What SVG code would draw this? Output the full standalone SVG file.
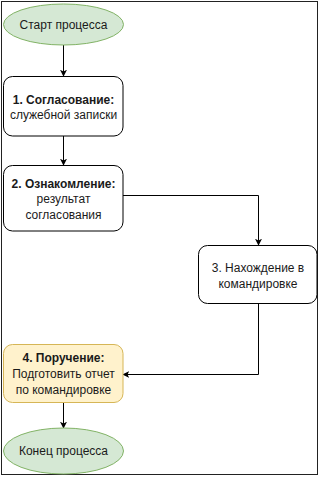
<svg xmlns="http://www.w3.org/2000/svg" width="323" height="484" viewBox="0 0 323 484">
<defs>
<style>
text{font-family:"Liberation Sans",Arial,sans-serif;font-size:12px;fill:#1a1a1a;text-anchor:middle}
.b{font-weight:bold}
.term{fill:#d5e8d4;stroke:#82b366;stroke-width:1}
.proc{fill:#ffffff;stroke:#000000;stroke-width:1}
.task{fill:#fff2cc;stroke:#d6b656;stroke-width:1}
.edge{fill:none;stroke:#000000;stroke-width:1}
</style>
<marker id="arr" viewBox="0 0 10 10" refX="9" refY="5" markerWidth="7" markerHeight="7" orient="auto" markerUnits="userSpaceOnUse">
<path d="M0,0 L10,5 L0,10 L2.5,5 Z" fill="#000"/>
</marker>
</defs>
<rect x="1.5" y="1.5" width="316" height="473" fill="#ffffff" stroke="#222" stroke-width="1"/>
<g id="connectors">
<path class="edge" d="M63.5,45 L63.5,76" marker-end="url(#arr)"/>
<path class="edge" d="M63.5,136 L63.5,165" marker-end="url(#arr)"/>
<path class="edge" d="M123,195.5 L258.5,195.5 L258.5,245" marker-end="url(#arr)"/>
<path class="edge" d="M258.5,303 L258.5,374.5 L123,374.5" marker-end="url(#arr)"/>
<path class="edge" d="M63.5,402 L63.5,428" marker-end="url(#arr)"/>
</g>
<g id="start">
<ellipse class="term" cx="63.5" cy="24.5" rx="60" ry="20.5"/>
<text x="63.5" y="28.5">Старт процесса</text>
</g>
<g id="step1">
<rect class="proc" x="3.5" y="76.5" width="119.5" height="59.5" rx="9"/>
<text class="b" x="63.5" y="103.5">1. Согласование:</text>
<text x="63.5" y="119">служебной записки</text>
</g>
<g id="step2">
<rect class="proc" x="3.5" y="165.5" width="119.5" height="65.5" rx="9"/>
<text class="b" x="63.5" y="187.5">2. Ознакомление:</text>
<text x="63.5" y="203">результат</text>
<text x="63.5" y="218.5">согласования</text>
</g>
<g id="step3">
<rect class="proc" x="198.5" y="245.5" width="118.5" height="58" rx="9"/>
<text x="258" y="272">3. Нахождение в</text>
<text x="258" y="288">командировке</text>
</g>
<g id="step4">
<rect class="task" x="3.5" y="344.5" width="119.5" height="58" rx="9"/>
<text class="b" x="63.5" y="362">4. Поручение:</text>
<text x="63.5" y="378">Подготовить отчет</text>
<text x="63.5" y="394">по командировке</text>
</g>
<g id="end">
<ellipse class="term" cx="63.5" cy="451" rx="60" ry="23"/>
<text x="63.5" y="455">Конец процесса</text>
</g>
</svg>
